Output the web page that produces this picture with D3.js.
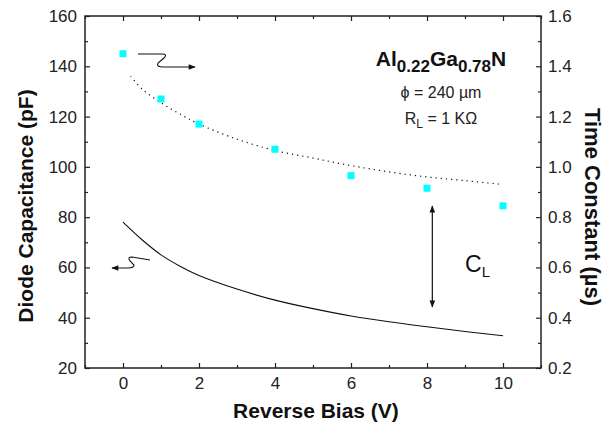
<!DOCTYPE html>
<html>
<head>
<meta charset="utf-8">
<script src="https://cdn.jsdelivr.net/npm/d3@7"></script>
<style>
  body { margin: 0; background: #fff; }
  svg { display: block; font-family: "Liberation Sans", Arial, sans-serif; }
</style>
</head>
<body>
<svg id="chart" width="613" height="434"></svg>
<script>
// data
const biasFit = [0, 0.5, 1, 1.5, 2, 3, 4, 5, 6, 7, 8, 9, 10]
const capacitance = [78, 71, 65, 60.5, 56.8, 51.4, 47, 43.6, 40.7, 38.4, 36.4, 34.5, 32.8]   // pF, left axis

const biasTau = [0.2, 0.5, 1, 1.5, 2, 3, 4, 5, 6, 7, 8, 9, 10]
const tauFit = [1.36, 1.31, 1.255, 1.21, 1.17, 1.11, 1.065, 1.035, 1.005, 0.98, 0.96, 0.945, 0.93]  // us, right axis

const biasMeas = [0, 1, 2, 4, 6, 8, 10]
const tauMeas = [1.45, 1.27, 1.17, 1.07, 0.965, 0.915, 0.845]

const xTicks = [0, 2, 4, 6, 8, 10]
const yLeftTicks = [20, 40, 60, 80, 100, 120, 140, 160]
const yRightTicks = [0.2, 0.4, 0.6, 0.8, 1.0, 1.2, 1.4, 1.6]

/*** size logic ***/
const m = {left: 85, top: 16, right: 541, bottom: 368}

const svg = d3.select('#chart')

const x = d3.scaleLinear().domain([-1, 11]).range([m.left, m.right])
const yL = d3.scaleLinear().domain([20, 160]).range([m.bottom, m.top])
const yR = d3.scaleLinear().domain([0.2, 1.6]).range([m.bottom, m.top])

const defs = svg.append('defs')
defs.append('marker')
    .attr('id', 'head')
    .attr('viewBox', '0 0 10 10')
    .attr('refX', 9).attr('refY', 5)
    .attr('markerWidth', 9).attr('markerHeight', 7)
    .attr('markerUnits', 'userSpaceOnUse')
    .attr('orient', 'auto-start-reverse')
  .append('path')
    .attr('d', 'M0,1 L10,5 L0,9 Z')
    .attr('fill', '#111')

/*** axes ***/
function styleAxis(g) {
    g.select('.domain').remove()
    g.selectAll('line').attr('stroke', '#222').attr('stroke-width', 1.2)
    g.selectAll('text').attr('font-size', 17).attr('fill', '#222')
}

const xMinor = [-1, 1, 3, 5, 7, 9, 11]
const yLMinor = [30, 50, 70, 90, 110, 130, 150]
const yRMinor = [0.3, 0.5, 0.7, 0.9, 1.1, 1.3, 1.5]

svg.append('g').attr('transform', `translate(0,${m.bottom})`)
    .call(d3.axisBottom(x).tickValues(xTicks).tickSize(-5).tickPadding(9).tickFormat(d3.format('d')))
    .call(styleAxis)
svg.append('g').attr('transform', `translate(0,${m.bottom})`)
    .call(d3.axisBottom(x).tickValues(xMinor).tickSize(-3).tickFormat(''))
    .call(styleAxis)
svg.append('g').attr('transform', `translate(0,${m.top})`)
    .call(d3.axisTop(x).tickValues(xTicks).tickSize(-5).tickFormat(''))
    .call(styleAxis)
svg.append('g').attr('transform', `translate(0,${m.top})`)
    .call(d3.axisTop(x).tickValues(xMinor).tickSize(-3).tickFormat(''))
    .call(styleAxis)

svg.append('g').attr('transform', `translate(${m.left},0)`)
    .call(d3.axisLeft(yL).tickValues(yLeftTicks).tickSize(-5).tickPadding(8).tickFormat(d3.format('d')))
    .call(styleAxis)
svg.append('g').attr('transform', `translate(${m.left},0)`)
    .call(d3.axisLeft(yL).tickValues(yLMinor).tickSize(-3).tickFormat(''))
    .call(styleAxis)

svg.append('g').attr('transform', `translate(${m.right},0)`)
    .call(d3.axisRight(yR).tickValues(yRightTicks).tickSize(-5).tickPadding(7).tickFormat(d3.format('.1f')))
    .call(styleAxis)
svg.append('g').attr('transform', `translate(${m.right},0)`)
    .call(d3.axisRight(yR).tickValues(yRMinor).tickSize(-3).tickFormat(''))
    .call(styleAxis)

svg.append('rect')
    .attr('x', m.left).attr('y', m.top)
    .attr('width', m.right - m.left).attr('height', m.bottom - m.top)
    .attr('fill', 'none').attr('stroke', '#222').attr('stroke-width', 1.5)

/*** series ***/
svg.append('path')
    .datum(biasFit.map((d, i) => [d, capacitance[i]]))
    .attr('d', d3.line().x(d => x(d[0])).y(d => yL(d[1])).curve(d3.curveCatmullRom))
    .attr('fill', 'none').attr('stroke', '#111').attr('stroke-width', 1.1)

svg.append('path')
    .datum(biasTau.map((d, i) => [d, tauFit[i]]))
    .attr('d', d3.line().x(d => x(d[0])).y(d => yR(d[1])).curve(d3.curveCatmullRom))
    .attr('fill', 'none').attr('stroke', '#111').attr('stroke-width', 1.2)
    .attr('stroke-dasharray', '1.2,4')

svg.append('g').selectAll('rect')
    .data(biasMeas.map((d, i) => [d, tauMeas[i]]))
    .join('rect')
    .attr('x', d => x(d[0]) - 3.5)
    .attr('y', d => yR(d[1]) - 3.5)
    .attr('width', 7).attr('height', 7)
    .attr('fill', '#00ffff')

/*** annotations ***/
// squiggle arrows pointing to the axis each curve belongs to
svg.append('path')
    .attr('d', 'M138,54 L162,54 Q168,54 164,58 L158,63 Q156,67 163,67 L195,67')
    .attr('fill', 'none').attr('stroke', '#111').attr('stroke-width', 1.1)
    .attr('marker-end', 'url(#head)')
svg.append('path')
    .attr('d', 'M150,260 L132,257 Q127,257 130,261 L134,265 Q134,268 128,268 L112,268')
    .attr('fill', 'none').attr('stroke', '#111').attr('stroke-width', 1.1)
    .attr('marker-end', 'url(#head)')

// C_L double arrow
svg.append('line')
    .attr('x1', x(8.14)).attr('x2', x(8.14))
    .attr('y1', yL(84.4)).attr('y2', yL(44.3))
    .attr('stroke', '#111').attr('stroke-width', 1.2)
    .attr('marker-start', 'url(#head)').attr('marker-end', 'url(#head)')

const cl = svg.append('text').attr('x', 465).attr('y', 272).attr('font-size', 23).attr('fill', '#111')
cl.append('tspan').text('C')
cl.append('tspan').attr('dy', 5).attr('font-size', 15).text('L')

const title = svg.append('text').attr('x', 441).attr('y', 66)
    .attr('text-anchor', 'middle').attr('font-weight', 'bold').attr('font-size', 21).attr('fill', '#111')
title.append('tspan').text('Al')
title.append('tspan').attr('dy', 6).attr('font-size', 17).text('0.22')
title.append('tspan').attr('dy', -6).text('Ga')
title.append('tspan').attr('dy', 6).attr('font-size', 17).text('0.78')
title.append('tspan').attr('dy', -6).text('N')

svg.append('text').attr('x', 441).attr('y', 98)
    .attr('text-anchor', 'middle').attr('font-size', 16).attr('fill', '#222')
    .text('\u03d5 = 240 \u00b5m')

const rl = svg.append('text').attr('x', 441).attr('y', 124)
    .attr('text-anchor', 'middle').attr('font-size', 16).attr('fill', '#222')
rl.append('tspan').text('R')
rl.append('tspan').attr('dy', 4).attr('font-size', 12).text('L')
rl.append('tspan').attr('dy', -4).text(' = 1 K\u03a9')

/*** axis titles ***/
svg.append('text')
    .attr('x', (m.left + m.right) / 2 + 3).attr('y', 418)
    .attr('text-anchor', 'middle').attr('font-weight', 'bold').attr('font-size', 21).attr('fill', '#111')
    .text('Reverse Bias (V)')

svg.append('text')
    .attr('transform', 'translate(33,206) rotate(-90)')
    .attr('text-anchor', 'middle').attr('font-weight', 'bold').attr('font-size', 21).attr('fill', '#111')
    .text('Diode Capacitance (pF)')

svg.append('text')
    .attr('transform', 'translate(585,207) rotate(90)')
    .attr('text-anchor', 'middle').attr('font-weight', 'bold').attr('font-size', 22).attr('fill', '#111')
    .text('Time Constant (\u00b5s)')
</script>
</body>
</html>
